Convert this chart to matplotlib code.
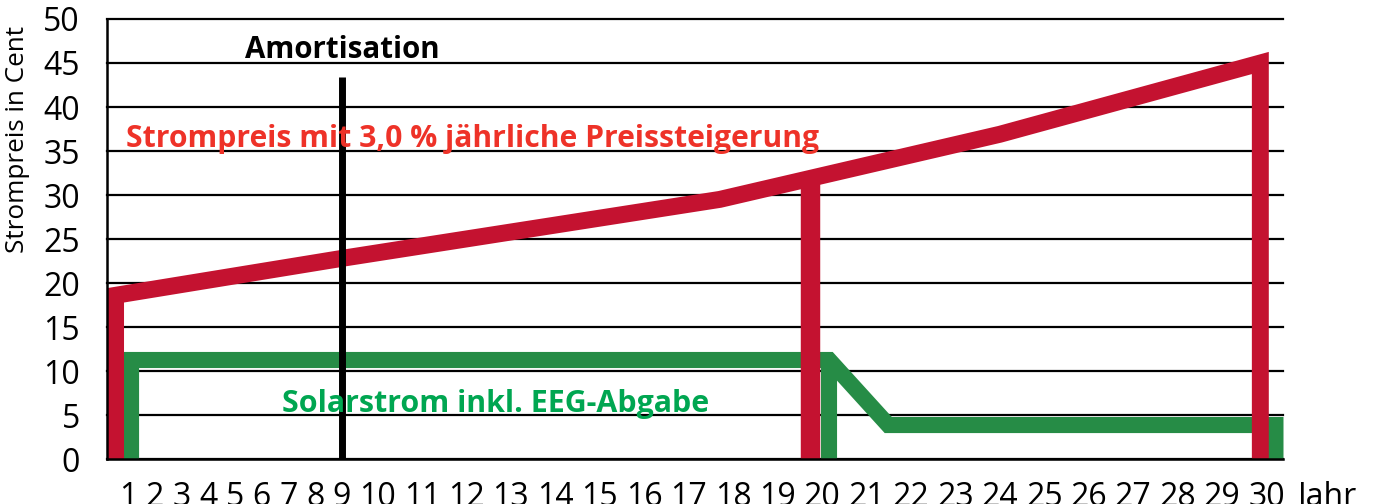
import numpy as np
import matplotlib
matplotlib.use("Agg")
import matplotlib.pyplot as plt

# ---------------- data ----------------
years = list(range(1, 31))
tick_labels = [str(y) for y in years]
y_ticks = list(range(0, 55, 5))

red_years = [0.52, 9.0, 17.7, 24.0, 29.86]      # Strompreis curve
red_values = [18.6, 22.8, 29.5, 36.9, 45.0]
red_drop_year = 19.73                             # vertical marker near year 20

green_years = [1.1, 20.16, 21.49, 30.2]           # Solarstrom
green_values = [11.25, 11.25, 3.86, 3.86]
green_drop_year = 20.16

amort_year = 9
amort_top = 43.4

label_red = "Strompreis mit 3,0 % jährliche Preissteigerung"
label_green = "Solarstrom inkl. EEG-Abgabe"
label_amort = "Amortisation"
ylabel = "Strompreis in Cent"
xunit = "Jahr"

# ---------------- style ----------------
plt.rcParams["font.family"] = ["Open Sans", "DejaVu Sans"]
RED = "#c41230"
GREEN = "#268c46"
RED_TXT = "#ee3228"
GREEN_TXT = "#00a651"

# x-axis: labels are packed like a text line, so positions follow label widths
space = 0.504
centers = []
pos = 0.0
for lab in tick_labels:
    w = len(lab)
    centers.append(pos + w / 2)
    pos += w + space
centers = np.array(centers)
ext_years = np.concatenate([[years[0] - 1], years, [years[-1] + 1]]).astype(float)
ext_centers = np.concatenate([[centers[0] - (centers[1] - centers[0])], centers,
                              [centers[-1] + (centers[-1] - centers[-2])]])


def fwd(x):
    return np.interp(x, ext_years, ext_centers)


def inv(u):
    return np.interp(u, ext_centers, ext_years)


fig = plt.figure(figsize=(13.74, 5.04), dpi=100)
ax = fig.add_axes([107 / 1374, 45 / 504, 1176 / 1374, 440 / 504])
ax.set_xscale("function", functions=(fwd, inv))
ax.set_xlim(0.2, 30.37)
ax.set_ylim(0, 50)

ax.set_yticks(y_ticks)
ax.set_yticklabels([str(v) for v in y_ticks])
ax.set_xticks(years)
ax.set_xticklabels(tick_labels)
ax.tick_params(axis="both", length=0, labelsize=23, colors="black")
ax.tick_params(axis="y", pad=19.4)
XPAD = 16.0
ax.tick_params(axis="x", pad=XPAD)

ax.yaxis.grid(True, color="black", linewidth=1.6, zorder=1)
ax.xaxis.grid(False)
ax.set_axisbelow(True)
for gl in ax.get_ygridlines():
    gl.set_clip_on(False)

for s in ["top", "right"]:
    ax.spines[s].set_visible(False)
for s in ["left", "bottom"]:
    ax.spines[s].set_linewidth(1.8)
    ax.spines[s].set_color("black")
    ax.spines[s].set_zorder(10)

# green series
gx = [green_years[0]] + green_years + [green_years[-1]]
gy = [0] + green_values + [0]
ax.plot(gx, gy, color=GREEN, lw=11.6, solid_joinstyle="miter",
        solid_capstyle="butt", zorder=3, clip_on=False)
ax.plot([green_drop_year, green_drop_year], [0, green_values[0]], color=GREEN,
        lw=11.6, solid_capstyle="butt", zorder=3, clip_on=False)

# red series
rx = [red_years[0]] + red_years + [red_years[-1]]
ry = [0] + red_values + [0]
ax.plot(rx, ry, color=RED, lw=12.2, solid_joinstyle="miter",
        solid_capstyle="butt", zorder=4, clip_on=False)
ax.plot([red_drop_year, red_drop_year],
        [0, float(np.interp(red_drop_year, red_years, red_values))],
        color=RED, lw=14, solid_capstyle="butt", zorder=4)

# amortisation
ax.plot([amort_year, amort_year], [0, amort_top], color="black", lw=5,
        solid_capstyle="butt", zorder=5)

t_amort = ax.text(amort_year, 45.57, label_amort, ha="center", va="baseline",
                  fontsize=21, fontweight="bold", color="black", zorder=6)
t_red = ax.text(0.914, 35.45, label_red, ha="left", va="baseline",
                fontsize=20, fontweight="bold", color=RED_TXT, zorder=6)
t_green = ax.text(6.74, 5.31, label_green, ha="left", va="baseline",
                  fontsize=20, fontweight="bold", color=GREEN_TXT, zorder=6)

ylab = ax.set_ylabel(ylabel, fontsize=18.5, va="center")
ax.yaxis.set_label_coords(-0.0757, 0.727)

ax.text(1.0128, -XPAD * 100 / 72 / 440, xunit, transform=ax.transAxes,
        ha="left", va="top", fontsize=23)

# fit labels to the reference extents
fig.canvas.draw()
r = fig.canvas.get_renderer()
for t, target in [(t_red, 692), (t_green, 428), (t_amort, 195)]:
    w = t.get_window_extent(r).width
    t.set_fontsize(t.get_fontsize() * target / w)
h = ylab.get_window_extent(r).height
ylab.set_fontsize(ylab.get_fontsize() * 228 / h)

fig.savefig("out.png", dpi=100, facecolor="white")
